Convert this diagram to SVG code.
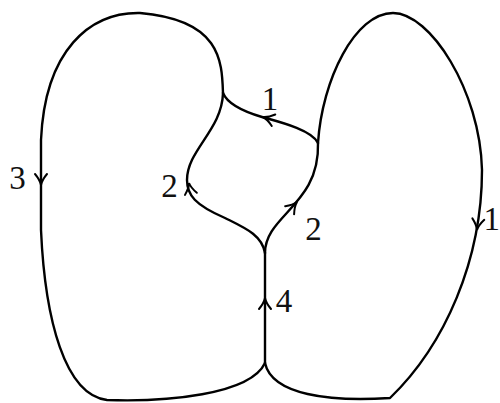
<svg xmlns="http://www.w3.org/2000/svg" width="500" height="403" viewBox="0 0 500 403">
<style>
.edge{fill:none;stroke:#000;stroke-width:2.4;stroke-linecap:round;stroke-linejoin:round}
.arr{fill:none;stroke:#000;stroke-width:2;stroke-linecap:round;stroke-linejoin:miter}
.lbl{font-family:"Liberation Serif","Times New Roman",serif;font-size:33px;fill:#111;text-anchor:middle}
</style>
<defs>
<path id="ah" class="arr" d="M-11,-6 Q-5,-1 0,0 Q-5,1 -11,6"/>
</defs>
<rect width="500" height="403" fill="#fff"/>
<g id="connectors">
<path id="e3" class="edge" d="M223,93 C222,60 220,20 140,13 C90,12 45,50 41,140 L41,230 C45,320 65,395 107,400 C165,402 250,395 265,363"/>
<path id="e1r" class="edge" d="M318,143 C322,80 355,13 393,13 C430,13 480,90 482,170 C482,260 445,345 390,398 C330,402 272,395 265,363"/>
<path id="e4" class="edge" d="M265,363 L265,253"/>
<path id="e2r" class="edge" d="M265,253 C265,215 320,205 318,143"/>
<path id="e2l" class="edge" d="M265,253 C262,235 245,228 225,218 C195,205 187,195 187,180 C187,150 222,130 223,93"/>
<path id="e1t" class="edge" d="M318,143 C312,130 280,122 262,117 C245,112 228,105 223,93"/>
</g>
<g id="arrows">
<use href="#ah" transform="translate(41,185) rotate(90)"/>
<use href="#ah" transform="translate(477,230) rotate(97)"/>
<use href="#ah" transform="translate(265,298) rotate(-90)"/>
<use href="#ah" transform="translate(297,202) rotate(-48)"/>
<use href="#ah" transform="translate(189,183) rotate(-100)"/>
<use href="#ah" transform="translate(263,117) rotate(-163)"/>
</g>
<g id="labels">
<text class="lbl" x="17.5" y="189">3</text>
<text class="lbl" x="169.5" y="197">2</text>
<text class="lbl" x="313.5" y="240">2</text>
<text class="lbl" x="284" y="312">4</text>
<text class="lbl" x="270" y="110">1</text>
<text class="lbl" x="500" y="230" style="text-anchor:end">1</text>
</g>
</svg>
